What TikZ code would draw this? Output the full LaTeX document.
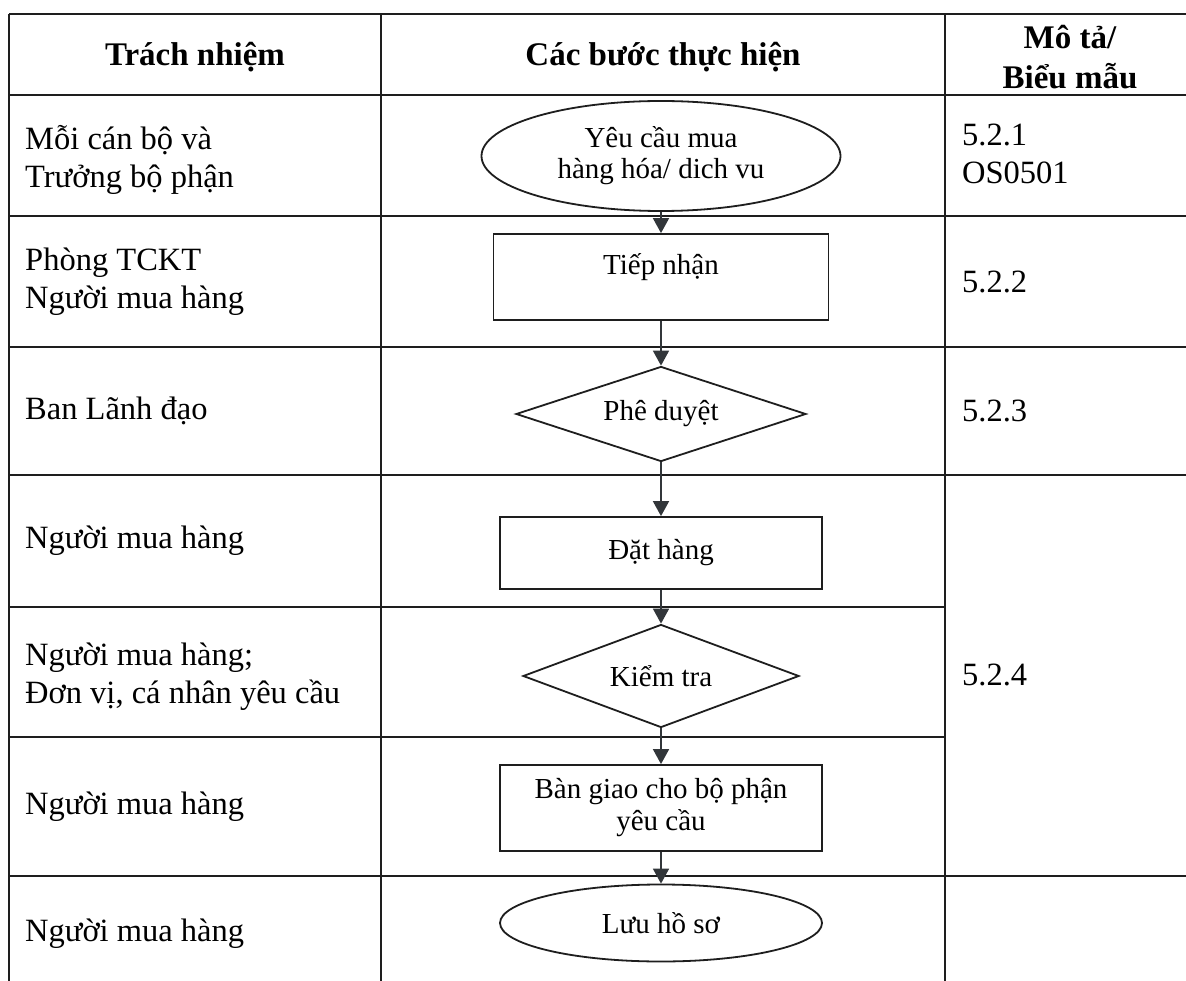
\documentclass[tikz,border=0pt]{standalone}
\usepackage{fontspec}
\setmainfont{Liberation Serif}
\usetikzlibrary{shapes.geometric,arrows.meta}
\definecolor{ink}{RGB}{30,30,30}
\definecolor{arr}{RGB}{50,54,58}
\begin{document}
\begin{tikzpicture}[x=1pt,y=-1pt,
  tline/.style={draw=ink,line width=1.8pt},
  celltext/.style={font=\fontsize{32.5}{38}\selectfont,align=left,anchor=west,inner sep=0pt},
  headtext/.style={font=\fontsize{33}{40}\selectfont\bfseries,align=center,inner sep=0pt},
  shapetext/.style={font=\fontsize{29}{32}\selectfont,align=center},
  stepbox/.style={shapetext,draw=ink,line width=1.8pt,rectangle,inner sep=0pt},
  stepoval/.style={shapetext,draw=ink,line width=1.8pt,ellipse,inner sep=0pt},
  stepdia/.style={shapetext,draw=ink,line width=1.8pt,diamond,aspect=3,inner sep=0pt},
  flow/.style={draw=arr,line width=1.8pt,-{Triangle[width=16pt,length=15pt]}}
]
\useasboundingbox (0,0) rectangle (1186,981);
\fill[white] (0,0) rectangle (1186,981);

% table grid
\draw[tline] (9,14) -- (1186,14);
\draw[tline] (9,14) -- (9,981);
\draw[tline] (381,14) -- (381,981);
\draw[tline] (945,14) -- (945,981);
\draw[tline] (9,95) -- (1186,95);
\draw[tline] (9,216) -- (1186,216);
\draw[tline] (9,347) -- (1186,347);
\draw[tline] (9,475) -- (1186,475);
\draw[tline] (9,607) -- (945,607);
\draw[tline] (9,737) -- (945,737);
\draw[tline] (9,876) -- (1186,876);

% header
\node[headtext] (h1) at (195,57) {Trách nhiệm};
\node[headtext] (h2) at (663,57) {Các bước thực hiện};
\node[headtext] (h3) at (1070,57) {Mô tả/\\Biểu mẫu};

% left column
\node[celltext] (r1) at (25,160) {Mỗi cán bộ và\\Trưởng bộ phận};
\node[celltext] (r2) at (25,282) {Phòng TCKT\\Người mua hàng};
\node[celltext] (r3) at (25,411) {Ban Lãnh đạo};
\node[celltext] (r4) at (25,541) {Người mua hàng};
\node[celltext] (r5) at (25,677) {Người mua hàng;\\Đơn vị, cá nhân yêu cầu};
\node[celltext] (r6) at (25,807) {Người mua hàng};
\node[celltext] (r7) at (25,934) {Người mua hàng};

% right column
\node[celltext] (d1) at (962,154) {5.2.1\\OS0501};
\node[celltext] (d2) at (962,282) {5.2.2};
\node[celltext] (d3) at (962,411) {5.2.3};
\node[celltext] (d4) at (962,675) {5.2.4};

% flow
\node[stepoval,minimum width=359pt,minimum height=110pt,
      font=\fontsize{29}{31}\selectfont] (s1) at (661,156) {Yêu cầu mua\\hàng hóa/ dich vu};
\node[stepbox,minimum width=335pt,minimum height=86pt,text height=22pt,text depth=26pt] (s2) at (661,277) {Tiếp nhận};
\node[stepdia,minimum width=290pt,minimum height=95pt] (s3) at (661,414) {Phê duyệt};
\node[stepbox,minimum width=322pt,minimum height=72pt] (s4) at (661,553) {Đặt hàng};
\node[stepdia,minimum width=276pt,minimum height=103pt] (s5) at (661,676) {Kiểm tra};
\node[stepbox,minimum width=322pt,minimum height=86pt] (s6) at (661,808) {Bàn giao cho bộ phận\\yêu cầu};
\node[stepoval,minimum width=322pt,minimum height=77pt] (s7) at (661,923) {Lưu hồ sơ};

\draw[flow] (s1) -- (s2);
\draw[flow] (s2) -- (s3);
\draw[flow] (s3) -- (s4);
\draw[flow] (s4) -- (s5);
\draw[flow] (s5) -- (s6);
\draw[flow] (s6) -- (s7);
\end{tikzpicture}
\end{document}
